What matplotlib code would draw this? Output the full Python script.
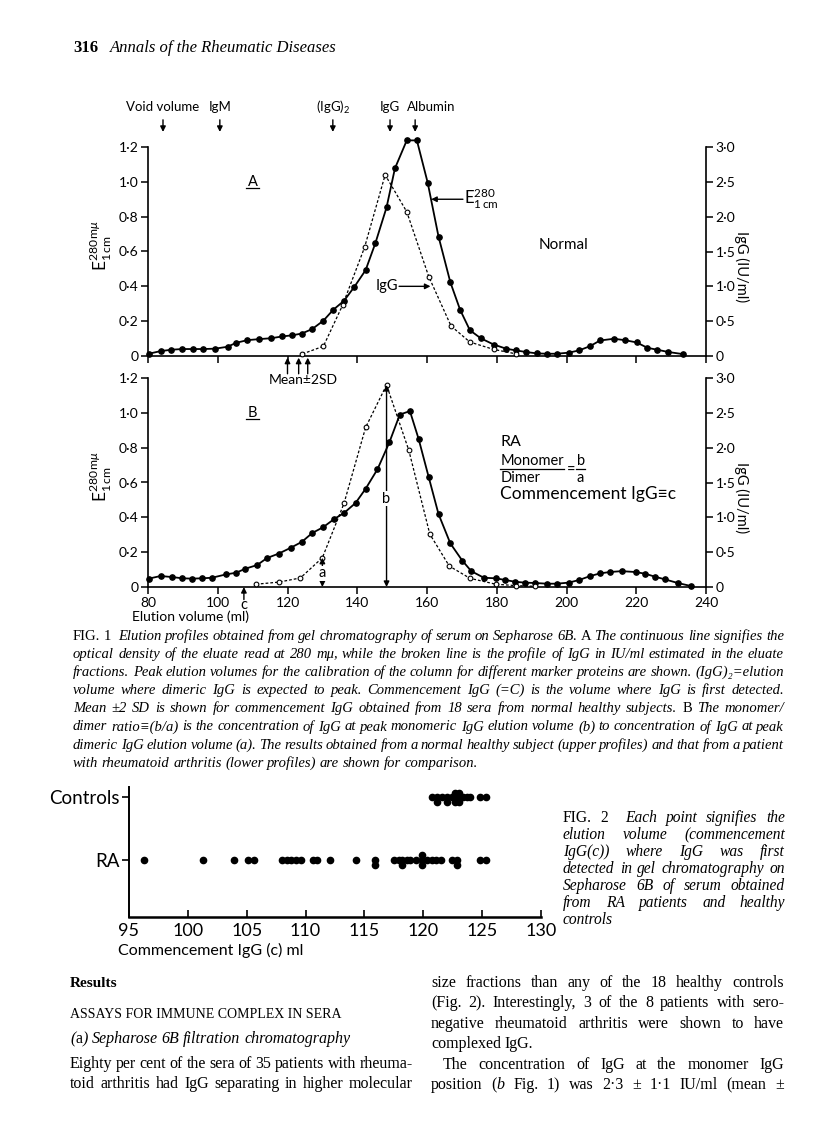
import numpy as np
import matplotlib
matplotlib.use('Agg')
import matplotlib.pyplot as plt

# ---------------- values ----------------
# Fig. 1A, normal subject: E280 (filled dots) and IgG IU/ml (open dots)
a_vol = [80.2, 83.6, 86.7, 89.8, 92.9, 95.8, 99.2, 102.8, 105.3, 108.5, 111.9, 115.3, 118.4, 121.4, 124.1,
         127.1, 130.3, 133.1, 136.2, 139.2, 142.4, 145.2, 148.4, 150.8, 154.2, 157.1, 160.2, 163.3, 166.7,
         169.5, 172.3, 175.4, 179.1, 182.7, 185.5, 188.4, 191.5, 194.4, 197.2, 200.6, 203.6, 206.8, 209.6,
         213.6, 216.7, 220.1, 223.2, 226.0, 229.2, 233.3]
a_e280 = [0.013, 0.028, 0.036, 0.040, 0.040, 0.040, 0.042, 0.053, 0.076, 0.091, 0.097, 0.102, 0.112, 0.119, 0.129,
          0.155, 0.203, 0.265, 0.317, 0.398, 0.493, 0.648, 0.853, 1.077, 1.238, 1.238, 0.995, 0.686, 0.423,
          0.265, 0.148, 0.102, 0.066, 0.042, 0.032, 0.023, 0.015, 0.013, 0.013, 0.019, 0.032, 0.057, 0.089,
          0.099, 0.091, 0.078, 0.047, 0.036, 0.023, 0.011]
a_igg_vol = [124.3, 130.3, 135.8, 142.1, 148.0, 154.2, 160.5, 166.9, 172.3, 179.1, 185.6]
a_igg = [0.03, 0.14, 0.73, 1.56, 2.60, 2.07, 1.14, 0.43, 0.20, 0.095, 0.03]

# Fig. 1B, RA patient
b_vol = [80.2, 83.6, 87.0, 89.8, 92.7, 95.5, 98.3, 102.3, 105.3, 107.9, 111.3, 114.1, 117.5, 120.9, 124.1,
         127.1, 130.2, 133.3, 136.2, 139.5, 142.4, 145.8, 149.2, 152.2, 155.1, 157.6, 160.5, 163.3, 166.7,
         170.1, 172.7, 176.3, 179.7, 182.5, 185.3, 188.1, 191.0, 194.4, 197.2, 200.6, 203.6, 206.8, 209.6,
         212.4, 215.8, 219.8, 222.6, 225.4, 228.2, 231.9, 235.6]
b_e280 = [0.048, 0.063, 0.057, 0.050, 0.048, 0.050, 0.053, 0.072, 0.082, 0.105, 0.126, 0.166, 0.192, 0.225, 0.259,
          0.310, 0.343, 0.389, 0.425, 0.482, 0.564, 0.676, 0.830, 0.990, 1.010, 0.850, 0.630, 0.419, 0.250,
          0.152, 0.091, 0.053, 0.050, 0.040, 0.030, 0.025, 0.023, 0.019, 0.019, 0.025, 0.040, 0.063, 0.078,
          0.086, 0.091, 0.086, 0.076, 0.059, 0.044, 0.023, 0.006]
b_igg_vol = [111.0, 117.5, 123.7, 130.0, 136.2, 142.4, 148.4, 154.8, 160.8, 166.4, 172.3, 179.7, 185.5, 191.0]
b_igg = [0.04, 0.07, 0.13, 0.42, 1.20, 2.29, 2.90, 1.96, 0.76, 0.30, 0.125, 0.04, 0.02, 0.01]

# calibration markers (peak elution volume, ml)
marker_names = ['Void volume', 'IgM', '(IgG)$_2$', 'IgG', 'Albumin']
marker_vol = [84.3, 100.6, 133.0, 149.4, 156.6]
normal_commence = [120.0, 123.2, 125.8]     # mean - 2SD, mean, mean + 2SD
ra_commence = 107.5                        # c
ra_dimer_vol = 130.0                       # a
ra_monomer_vol = 148.4                     # b

e_ticks = [0, 0.2, 0.4, 0.6, 0.8, 1.0, 1.2]
e_labels = ['0', '0·2', '0·4', '0·6', '0·8', '1·0', '1·2']
igg_ticks = [0, 0.5, 1.0, 1.5, 2.0, 2.5, 3.0]
igg_labels = ['0', '0·5', '1·0', '1·5', '2·0', '2·5', '3·0']
vol_ticks = [80, 100, 120, 140, 160, 180, 200, 220, 240]

# Fig. 2, commencement IgG (ml)
ra_c = [96.3, 101.3, 103.9, 105.1, 105.6, 108.0, 108.4, 108.8, 109.2, 109.6, 110.6, 111.0, 112.1, 114.3,
        115.9, 115.9, 117.5, 117.9, 118.2, 118.2, 118.6, 118.9, 119.4, 119.9, 119.9, 119.9, 120.3, 120.7,
        121.1, 121.5, 122.4, 122.9, 122.9, 124.8, 125.3]
controls_c = [120.7, 121.2, 121.2, 121.6, 122.0, 122.0, 122.4, 122.7, 122.7, 122.7, 123.0, 123.0, 123.0,
              123.4, 123.7, 124.0, 124.8, 125.3]
c_ticks = [95, 100, 105, 110, 115, 120, 125, 130]

# ---------------- page ----------------
W, H = 816, 1138
SANS = ['Lato', 'DejaVu Sans']
SERIF = ['Liberation Serif', 'DejaVu Serif']
plt.rcParams['font.family'] = SANS
plt.rcParams['mathtext.fontset'] = 'custom'
plt.rcParams['mathtext.rm'] = 'Lato'
plt.rcParams['mathtext.it'] = 'Lato:italic'
plt.rcParams['axes.linewidth'] = 1.2

fig = plt.figure(figsize=(W / 100, H / 100), dpi=100)
renderer = fig.canvas.get_renderer()


def box(left, top, right, bottom):
    return [left / W, 1 - bottom / H, (right - left) / W, (bottom - top) / H]


def page_text(x, y, s, **kw):
    return fig.text(x / W, 1 - y / H, s, **kw)


def split_styles(line, style):
    # '~' toggles between italic and upright inside the line
    words = []
    st = style
    for w in line.split(' '):
        pieces = []
        for i, p in enumerate(w.split('~')):
            if i > 0:
                st = 'normal' if st == 'italic' else 'italic'
            if p:
                pieces.append((p, st))
        words.append(pieces)
    return words


def place_words(x0, y, words, size, family):
    arts = [[page_text(x0, y, p, fontsize=size, style=s, family=family, va='baseline') for p, s in w]
            for w in words]
    widths = [[t.get_window_extent(renderer).width for t in w] for w in arts]
    return arts, widths


def fit_size(lines, width, size, style='italic', family=SERIF, indent=()):
    best = size
    for i, line in enumerate(lines):
        words = split_styles(line, style)
        arts, widths = place_words(0, -100, words, size, family)
        natural = sum(sum(w) for w in widths) + size * 100 / 72 * 0.22 * (len(words) - 1)
        for w in arts:
            for t in w:
                t.remove()
        avail = width - (indent[i] if i < len(indent) else 0)
        if natural > avail:
            best = min(best, size * avail / natural)
    return best


def justify(x0, x1, y, line, size=10, style='italic', family=SERIF, last=False, indent=0):
    words = split_styles(line, style)
    arts, widths = place_words(x0, y, words, size, family)
    total = sum(sum(w) for w in widths)
    avail = x1 - x0 - indent
    if last or len(arts) == 1:
        gap = size * 100 / 72 * 0.24
    else:
        gap = (avail - total) / (len(arts) - 1)
    x = x0 + indent
    for w, ws in zip(arts, widths):
        for t, tw in zip(w, ws):
            t.set_x(x / W)
            x += tw
        x += gap


page_text(73, 52, '316', fontsize=12, weight='bold', family=SERIF, va='baseline')
page_text(110, 52, 'Annals of the Rheumatic Diseases', fontsize=12, style='italic', family=SERIF, va='baseline')


def profile_panel(top, bottom, vol, e280, igg_vol, igg, xlabels):
    ax = fig.add_axes(box(148, top, 706, bottom))
    ax.plot(vol, e280, '-', color='k', lw=1.3, marker='o', ms=3.8, clip_on=False, zorder=3)
    ax.set_xlim(80, 240)
    ax.set_ylim(0, 1.2)
    ax.spines['top'].set_visible(False)
    ax.spines['right'].set_visible(False)
    ax.set_yticks(e_ticks)
    ax.set_yticklabels(e_labels)
    ax.set_xticks(vol_ticks)
    if xlabels:
        ax.set_xticklabels([str(v) for v in vol_ticks])
    else:
        ax.set_xticklabels([])
    ax.tick_params(direction='out', length=5, width=1.1, labelsize=10, pad=2)
    ax.patch.set_visible(False)
    ax2 = ax.twinx()
    ax2.plot(igg_vol, igg, color='k', lw=0.9, ls=(0, (2.2, 1.6)), marker='o', ms=3.4,
             mfc='white', mec='k', mew=0.8, clip_on=False, zorder=3)
    ax2.set_ylim(0, 3.0)
    for s in ['top', 'left', 'bottom']:
        ax2.spines[s].set_visible(False)
    ax2.set_yticks(igg_ticks)
    ax2.set_yticklabels(igg_labels)
    ax2.tick_params(direction='out', length=5, width=1.1, labelsize=10, pad=2)
    mid = top + (bottom - top) * 0.47
    page_text(101, mid, r'E$^{280\,\mathrm{m}\mu}_{1\,\mathrm{cm}}$', rotation=90,
              ha='center', va='center', fontsize=12.5)
    page_text(742, top + (bottom - top) * 0.57, 'IgG (IU/ml)', rotation=270,
              ha='center', va='center', fontsize=10.5)
    return ax, ax2


arrow = dict(arrowstyle='-|>', color='k', lw=1.0, shrinkA=0, shrinkB=0, mutation_scale=8)

# ---- panel A ----
ax_a, ax_a2 = profile_panel(147, 356, a_vol, a_e280, a_igg_vol, a_igg, False)
for name, v in zip(marker_names, marker_vol):
    ax_a.annotate('', xy=(v, 1.072), xytext=(v, 1.13), xycoords=('data', 'axes fraction'),
                  textcoords=('data', 'axes fraction'), arrowprops=arrow)
    if name == 'Albumin':
        ax_a.text(v - 2.3, 1.19, name, transform=ax_a.get_xaxis_transform(), ha='left', va='center',
                  fontsize=9.5)
    else:
        ax_a.text(v, 1.19, name, transform=ax_a.get_xaxis_transform(), ha='center', va='center',
                  fontsize=9.5)
for v in normal_commence:
    ax_a.annotate('', xy=(v, -0.008), xytext=(v, -0.085), xycoords=('data', 'axes fraction'),
                  textcoords=('data', 'axes fraction'), arrowprops=arrow)
ax_a.text(normal_commence[1] + 1.3, -0.115, 'Mean±2SD', transform=ax_a.get_xaxis_transform(),
          ha='center', va='center', fontsize=10)
ax_a.text(110, 1.0, 'A', ha='center', va='center', fontsize=10.5)
ax_a.plot([108.2, 111.8], [0.962, 0.962], color='k', lw=0.9)
ax_a.text(192, 0.635, 'Normal', ha='left', va='center', fontsize=11)
ax_a.annotate('', xy=(161.2, 0.9), xytext=(170.3, 0.9), arrowprops=arrow)
ax_a.text(170.6, 0.905, r'E$^{280}_{1\,\mathrm{cm}}$', ha='left', va='center', fontsize=12)
ax_a.annotate('', xy=(161.0, 0.4), xytext=(152.0, 0.4), arrowprops=arrow)
ax_a.text(151.8, 0.4, 'IgG', ha='right', va='center', fontsize=10.5)

# ---- panel B ----
ax_b, ax_b2 = profile_panel(378, 587, b_vol, b_e280, b_igg_vol, b_igg, True)
dbl = dict(arrowstyle='<|-|>', color='k', lw=1.0, shrinkA=0, shrinkB=0, mutation_scale=8)
b_top = np.interp(ra_monomer_vol, b_igg_vol, b_igg)
a_top = np.interp(ra_dimer_vol, b_igg_vol, b_igg)
ax_b2.annotate('', xy=(ra_monomer_vol, b_top), xytext=(ra_monomer_vol, 0), arrowprops=dbl)
ax_b2.annotate('', xy=(ra_dimer_vol, a_top), xytext=(ra_dimer_vol, 0), arrowprops=dbl)
ax_b2.text(ra_monomer_vol, 1.27, 'b', ha='center', va='center', fontsize=10.5,
           bbox=dict(fc='white', ec='none', pad=0.5))
ax_b2.text(ra_dimer_vol, 0.2, 'a', ha='center', va='center', fontsize=10.5,
           bbox=dict(fc='white', ec='none', pad=0.3))
ax_b.annotate('', xy=(ra_commence, 0), xytext=(ra_commence, -0.06), xycoords=('data', 'axes fraction'),
              textcoords=('data', 'axes fraction'), arrowprops=arrow)
ax_b.text(ra_commence, -0.085, 'c', transform=ax_b.get_xaxis_transform(), ha='center', va='center',
          fontsize=10.5)
ax_b.text(110, 1.0, 'B', ha='center', va='center', fontsize=10.5)
ax_b.plot([108.2, 111.8], [0.962, 0.962], color='k', lw=0.9)
ax_b.text(181, 0.83, 'RA', ha='left', va='center', fontsize=11.5)
# Monomer / Dimer = b / a, set as two stacked fractions
mono = ax_b.text(181, 0.722, 'Monomer', ha='left', va='center', fontsize=10.5)
ax_b.text(181, 0.628, 'Dimer', ha='left', va='center', fontsize=10.5)
px_per_ml = ax_b.transData.transform((1, 0))[0] - ax_b.transData.transform((0, 0))[0]
mono_end = 181 + mono.get_window_extent(renderer).width / px_per_ml
ax_b.plot([181, mono_end], [0.676, 0.676], color='k', lw=0.9)
ax_b.text(mono_end + 2.0, 0.668, '=', ha='center', va='center', fontsize=10.5)
ax_b.text(mono_end + 4.8, 0.726, 'b', ha='center', va='center', fontsize=10.5)
ax_b.text(mono_end + 4.8, 0.626, 'a', ha='center', va='center', fontsize=10.5)
ax_b.plot([mono_end + 3.6, mono_end + 6.0], [0.676, 0.676], color='k', lw=0.9)
ax_b.text(181, 0.535, 'Commencement IgG≡c', ha='left', va='center', fontsize=12.5, family=SANS)
page_text(132, 617, 'Elution volume (ml)', fontsize=10, va='center')

# ---- Fig. 1 caption ----
cap1 = [
    '~FIG. 1~  Elution profiles obtained from gel chromatography of serum on Sepharose 6B. ~A~ The continuous line signifies the',
    'optical density of the eluate read at 280 mμ, while the broken line is the profile of IgG in IU/ml estimated in the eluate',
    'fractions. Peak elution volumes for the calibration of the column for different marker proteins are shown. (IgG)₂=elution',
    'volume where dimeric IgG is expected to peak. Commencement IgG (=C) is the volume where IgG is first detected.',
    'Mean ±2 SD is shown for commencement IgG obtained from 18 sera from normal healthy subjects. ~B~ The monomer/',
    'dimer ratio≡(b/a) is the concentration of IgG at peak monomeric IgG elution volume (b) to concentration of IgG at peak',
    'dimeric IgG elution volume (a). The results obtained from a normal healthy subject (upper profiles) and that from a patient',
    'with rheumatoid arthritis (lower profiles) are shown for comparison.',
]
s1 = fit_size(cap1, 711, 10.6)
for i, line in enumerate(cap1):
    justify(73, 784, 640 + 18.1 * i, line, size=s1, last=(i == len(cap1) - 1))

# ---- Fig. 2 ----
ax_c = fig.add_axes(box(129, 787, 541, 917))


def stack_levels(vals):
    order = [0, -1, 1, -2, 2]
    seen = {}
    out = []
    for v in vals:
        k = seen.get(v, 0)
        out.append(order[k])
        seen[v] = k + 1
    return np.array(out)


step = 0.072
ax_c.plot(ra_c, 0 + step * stack_levels(ra_c), 'o', color='k', ms=4.5, clip_on=False)
ax_c.plot(controls_c, 1 + step * stack_levels(controls_c), 'o', color='k', ms=4.5, clip_on=False)
ax_c.set_xlim(95, 130)
ax_c.set_ylim(-0.905, 1.16)
ax_c.spines['top'].set_visible(False)
ax_c.spines['right'].set_visible(False)
ax_c.spines['bottom'].set_linewidth(1.8)
ax_c.spines['left'].set_linewidth(1.4)
ax_c.set_yticks([0, 1])
ax_c.set_yticklabels(['RA', 'Controls'])
ax_c.set_xticks(c_ticks)
ax_c.set_xticklabels([str(v) for v in c_ticks])
ax_c.tick_params(axis='y', direction='out', length=5, width=1.2, labelsize=13.5, pad=2)
ax_c.tick_params(axis='x', direction='in', length=5, width=1.2, labelsize=13, pad=4)
ax_c.patch.set_visible(False)
page_text(118, 950, 'Commencement IgG (c) ml', fontsize=11.5, va='center')

cap2 = [
    '~FIG. 2~  Each point signifies the',
    'elution volume (commencement',
    'IgG(c)) where IgG was first',
    'detected in gel chromatography on',
    'Sepharose 6B of serum obtained',
    'from RA patients and healthy',
    'controls',
]
s2 = fit_size(cap2, 222, 11.2)
for i, line in enumerate(cap2):
    justify(563, 785, 822 + 17 * i, line, size=s2, last=(i == len(cap2) - 1))

# ---- body text ----
lh = 20.4
page_text(70, 987, 'Results', fontsize=11, weight='bold', family=SERIF, va='baseline')
page_text(70, 1018, 'ASSAYS FOR IMMUNE COMPLEX IN SERA', fontsize=10, family=SERIF, va='baseline')
justify(70, 413, 1043, '(~a~) Sepharose 6B filtration chromatography', size=11.5, last=True)
left_col = ['Eighty per cent of the sera of 35 patients with rheuma-',
            'toid arthritis had IgG separating in higher molecular']
right_col = ['size fractions than any of the 18 healthy controls',
             '(Fig. 2). Interestingly, 3 of the 8 patients with sero-',
             'negative rheumatoid arthritis were shown to have',
             'complexed IgG.',
             'The concentration of IgG at the monomer IgG',
             'position (~b~ Fig. 1) was 2·3 ± 1·1 IU/ml (mean ±']
s3 = min(fit_size(left_col, 343, 12, style='normal'),
         fit_size(right_col, 353, 12, style='normal', indent=(0, 0, 0, 0, 12, 0)))
for i, line in enumerate(left_col):
    justify(70, 413, 1068 + lh * i, line, size=s3, style='normal')
for i, line in enumerate(right_col):
    justify(431, 784, 987 + lh * i, line, size=s3, style='normal', last=(i == 3),
            indent=(12 if i == 4 else 0))

fig.savefig('out.png', dpi=100)
